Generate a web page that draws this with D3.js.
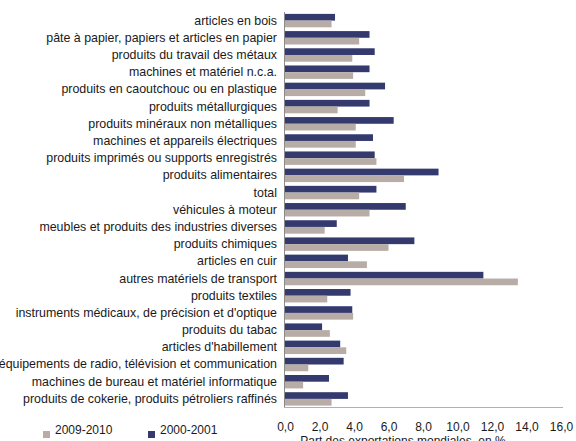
<!DOCTYPE html>
<html>
<head>
<meta charset="utf-8">
<script src="https://cdn.jsdelivr.net/npm/d3@7"></script>
<style>
  html, body { margin: 0; padding: 0; background: #fff; }
  svg { display: block; font-family: "Liberation Sans", Arial, sans-serif; }
</style>
</head>
<body>
<svg id="chart" width="576" height="441"></svg>
<script>
// Industries, top to bottom
const categories = [
  "articles en bois",
  "pâte à papier, papiers et articles en papier",
  "produits du travail des métaux",
  "machines et matériel n.c.a.",
  "produits en caoutchouc ou en plastique",
  "produits métallurgiques",
  "produits minéraux non métalliques",
  "machines et appareils électriques",
  "produits imprimés ou supports enregistrés",
  "produits alimentaires",
  "total",
  "véhicules à moteur",
  "meubles et produits des industries diverses",
  "produits chimiques",
  "articles en cuir",
  "autres matériels de transport",
  "produits textiles",
  "instruments médicaux, de précision et d'optique",
  "produits du tabac",
  "articles d'habillement",
  "équipements de radio, télévision et communication",
  "machines de bureau et matériel informatique",
  "produits de cokerie, produits pétroliers raffinés"
];

// Share of world exports, %
const values2000 = [2.9, 4.9, 5.2, 4.9, 5.8, 4.9, 6.3, 5.1, 5.2, 8.9, 5.3, 7.0, 3.0, 7.5, 3.65, 11.5, 3.8, 3.9, 2.15, 3.2, 3.4, 2.55, 3.65];
const values2009 = [2.7, 4.3, 3.9, 3.95, 4.65, 3.05, 4.1, 4.1, 5.3, 6.9, 4.3, 4.9, 2.3, 6.0, 4.75, 13.5, 2.45, 3.95, 2.6, 3.55, 1.35, 1.05, 2.7];

const xTicks = [0, 2, 4, 6, 8, 10, 12, 14, 16];
const seriesNames = ["2009-2010", "2000-2001"];

const colNavy = "#343a6e";
const colTan = "#b8aca6";
const textCol = "#1a1a1a";
const fontFam = "Liberation Sans, Arial, sans-serif";

const svg = d3.select("#chart");
const plotLeft = 285, plotRight = 561, plotTop = 12, plotBottom = 407.5;

const x = d3.scaleLinear().domain([0, 16]).range([plotLeft, plotRight]);
const y = d3.scaleBand().domain(categories).range([plotTop, plotBottom])
  .paddingInner(0.22).paddingOuter(0.11);
const sub = d3.scaleBand().domain(["2000", "2009"]).range([0, y.bandwidth()]);

const rows = svg.append("g").selectAll("g").data(categories).join("g")
  .attr("transform", d => `translate(0,${y(d)})`);

rows.append("rect")
  .attr("x", x(0))
  .attr("y", sub("2000"))
  .attr("height", sub.bandwidth())
  .attr("width", (d, i) => x(values2000[i]) - x(0))
  .attr("fill", colNavy);

rows.append("rect")
  .attr("x", x(0))
  .attr("y", sub("2009"))
  .attr("height", sub.bandwidth())
  .attr("width", (d, i) => x(values2009[i]) - x(0))
  .attr("fill", colTan);

// Category labels
const yAxis = d3.axisLeft(y).tickSize(0).tickPadding(8);
const gy = svg.append("g").attr("transform", `translate(${plotLeft},0)`).call(yAxis);
gy.select(".domain").remove();
gy.attr("font-family", fontFam).attr("font-size", 12.4);
gy.selectAll("text").attr("fill", textCol);

// Axis lines
svg.append("line").attr("x1", plotLeft - 0.5).attr("x2", plotLeft - 0.5)
  .attr("y1", plotTop).attr("y2", plotBottom).attr("stroke", "#8a8a8a").attr("stroke-width", 1);
svg.append("line").attr("x1", plotLeft - 1).attr("x2", plotRight + 2)
  .attr("y1", plotBottom).attr("y2", plotBottom).attr("stroke", "#b0b0b0").attr("stroke-width", 1);

// Value axis ticks
const xAxis = d3.axisBottom(x).tickValues(xTicks).tickSize(0).tickPadding(0)
  .tickFormat(d => d3.format(".1f")(d).replace(".", ","));
const gx = svg.append("g").attr("transform", `translate(0,${plotBottom + 15})`).call(xAxis);
gx.select(".domain").remove();
gx.attr("font-family", fontFam).attr("font-size", 12);
gx.selectAll("text").attr("fill", textCol);

svg.append("text").attr("x", 403).attr("y", 445)
  .attr("text-anchor", "middle").attr("font-size", 12).attr("fill", textCol)
  .attr("font-family", fontFam)
  .text("Part des exportations mondiales, en %");

// Legend
const legend = svg.append("g").attr("transform", "translate(43,434)");
const legendItems = [
  { name: seriesNames[0], color: colTan, dx: 0 },
  { name: seriesNames[1], color: colNavy, dx: 105 }
];
const li = legend.selectAll("g").data(legendItems).join("g")
  .attr("transform", d => `translate(${d.dx},0)`);
li.append("rect").attr("x", 0).attr("y", -3).attr("width", 7).attr("height", 7)
  .attr("fill", d => d.color);
li.append("text").attr("x", 12).attr("y", 0).attr("font-size", 12).attr("fill", textCol)
  .attr("font-family", fontFam)
  .text(d => d.name);
</script>
</body>
</html>
